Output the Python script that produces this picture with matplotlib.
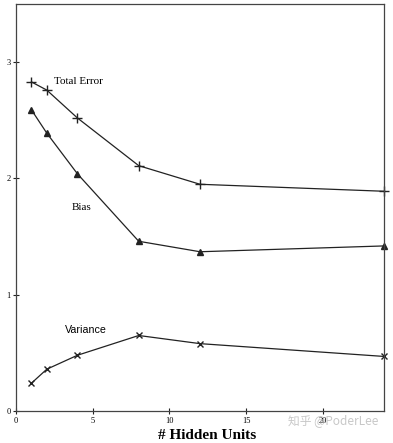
import matplotlib
matplotlib.use("Agg")
import matplotlib.pyplot as plt

hidden_units = [1, 2, 4, 8, 12, 24]
total_error = [2.83, 2.76, 2.52, 2.11, 1.95, 1.89]
bias = [2.59, 2.39, 2.04, 1.46, 1.37, 1.42]
variance = [0.24, 0.36, 0.48, 0.65, 0.58, 0.47]
x_ticks = [0, 5, 10, 15, 20]
y_ticks = [0, 1, 2, 3]

serif = ["Liberation Serif", "DejaVu Serif"]

fig = plt.figure(figsize=(3.93, 4.43), dpi=100)
ax = fig.add_axes([0.041, 0.072, 0.936, 0.919])
lw = 0.9
c = "#222222"
ax.plot(hidden_units, total_error, color=c, lw=lw, marker="+", ms=6.5, mew=1.0, clip_on=False)
ax.plot(hidden_units, bias, color=c, lw=lw, marker="^", ms=3.8, clip_on=False)
ax.plot(hidden_units, variance, color=c, lw=lw, marker="x", ms=4.5, mew=1.0, clip_on=False)

ax.set_xlim(0, 24)
ax.set_ylim(0, 3.5)
ax.set_xticks(x_ticks)
ax.set_yticks(y_ticks)
ax.set_xticklabels([str(v) for v in x_ticks], fontsize=6, family=serif)
ax.set_yticklabels([str(v) for v in y_ticks], fontsize=6, family=serif)
ax.tick_params(direction="inout", length=4, width=0.8, pad=2, color=c)
for s in ax.spines.values():
    s.set_linewidth(0.9)
    s.set_color("#444444")

ax.text(2.5, 2.83, "Total Error", fontsize=8, family=serif, va="center", ha="left")
ax.text(3.6, 1.75, "Bias", fontsize=8, family=serif, va="center", ha="left")
ax.text(3.2, 0.70, "Variance", fontsize=7.7, family="Liberation Sans", va="center", ha="left")

ax.set_xlabel("# Hidden Units", fontsize=11, fontweight="bold", family=serif)
ax.xaxis.set_label_coords(0.52, -0.045)
ax.xaxis.label.set_va("top")

fig.text(0.848, 0.050, "知乎 @PoderLee", fontsize=8.5, color="#c8c8c8",
         family=["Noto Sans CJK SC", "DejaVu Sans"], ha="center", va="center")

fig.savefig("out.png", dpi=100)
